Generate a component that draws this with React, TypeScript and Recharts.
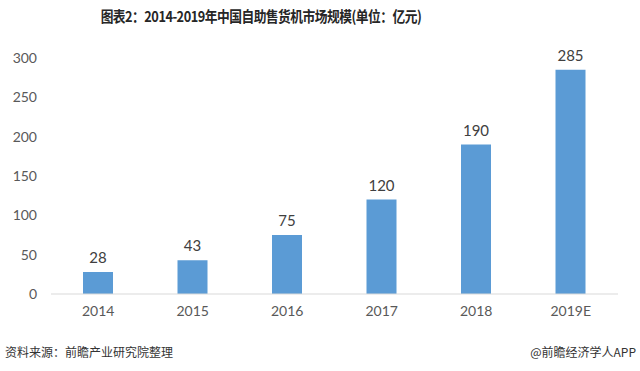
import React from 'react';
import { BarChart, Bar, XAxis, YAxis, LabelList } from 'recharts';

const years = ['2014', '2015', '2016', '2017', '2018', '2019E'];
const marketSize = [28, 43, 75, 120, 190, 285];
const yTicks = [0, 50, 100, 150, 200, 250, 300];

const data = years.map((year, i) => ({ year, value: marketSize[i] }));

const numFont = 'Lato, "Noto Sans", sans-serif';
const cjkFont = '"Noto Sans CJK SC", "Noto Sans", sans-serif';

export default function App() {
  return (
    <div
      style={{
        position: 'absolute',
        top: 0,
        left: 0,
        width: 640,
        height: 371,
        background: '#fff',
        overflow: 'hidden',
      }}
    >
      <div
        style={{
          position: 'absolute',
          top: 5,
          left: 0,
          width: 522,
          textAlign: 'center',
          fontFamily: cjkFont,
          fontWeight: 700,
          fontSize: 15,
          color: '#262626',
          letterSpacing: -0.6,
          transform: 'scaleX(0.85)',
          transformOrigin: '261px 0',
        }}
      >
        图表2：2014-2019年中国自助售货机市场规模(单位：亿元)
      </div>

      <BarChart
        width={640}
        height={371}
        data={data}
        margin={{ top: 58, right: 22, left: 6, bottom: 47 }}
      >
        <XAxis
          dataKey="year"
          height={30}
          tickLine={false}
          tickSize={0}
          tickMargin={12}
          axisLine={{ stroke: '#d9d9d9' }}
          tick={{ fill: '#595959', fontSize: 14, fontFamily: numFont }}
        />
        <YAxis
          width={45}
          domain={[0, 300]}
          ticks={yTicks}
          axisLine={false}
          tickLine={false}
          tickSize={0}
          tickMargin={14}
          tick={{ fill: '#595959', fontSize: 14, fontFamily: numFont }}
        />
        <Bar dataKey="value" fill="#5b9bd5" barSize={30} isAnimationActive={false}>
          <LabelList
            dataKey="value"
            position="top"
            offset={9}
            style={{ fill: '#404040', fontSize: 15, fontFamily: numFont }}
          />
        </Bar>
      </BarChart>

      <div
        style={{
          position: 'absolute',
          top: 343,
          left: 5,
          fontFamily: cjkFont,
          fontSize: 12,
          color: '#333',
        }}
      >
        资料来源：前瞻产业研究院整理
      </div>
      <div
        style={{
          position: 'absolute',
          top: 343,
          right: 4,
          fontFamily: cjkFont,
          fontSize: 12,
          color: '#333',
        }}
      >
        @前瞻经济学人APP
      </div>
    </div>
  );
}
